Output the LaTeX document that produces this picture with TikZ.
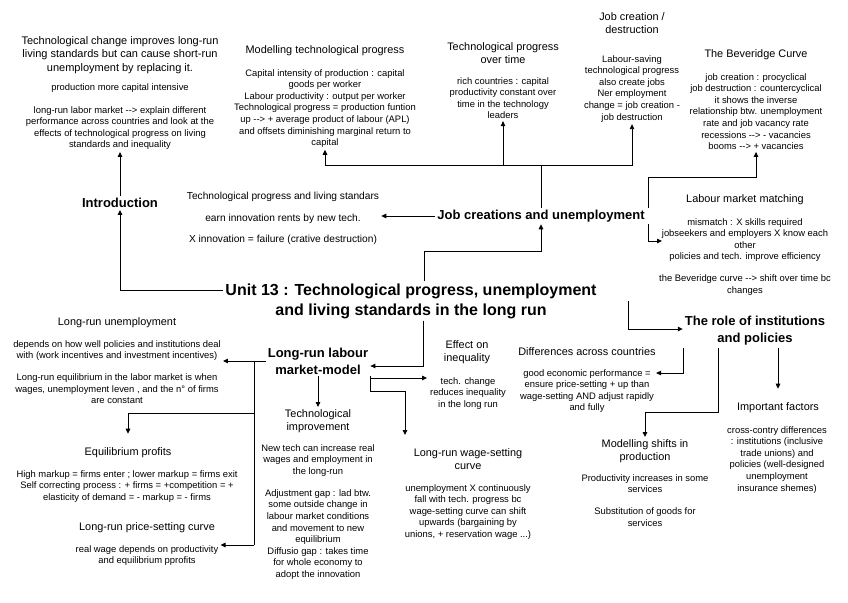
\documentclass[tikz,border=0pt]{standalone}
\usepackage{fontspec}
\setmainfont{Liberation Sans}
\usetikzlibrary{arrows.meta}

\tikzset{
    topic/.style={font=\bfseries\fontsize{13}{17}\selectfont, align=center, inner sep=2pt},
    head/.style={font=\fontsize{10.9}{13}\selectfont, align=center, inner sep=2pt},
    body/.style={font=\fontsize{9.4}{11.6}\selectfont, align=center, inner sep=2pt},
    bar/.style={line width=0.9pt},
    link/.style={bar, -{Triangle[length=5pt,width=4.5pt]}},
}

\begin{document}
\begin{tikzpicture}[x=1pt,y=-1pt]
    \useasboundingbox (0,0) rectangle (848,602);
    % centre
    \node[font=\bfseries\fontsize{16}{20}\selectfont, align=center, inner sep=2pt] (title) at (411,301)
        {Unit 13 : Technological progress, unemployment\\and living standards in the long run};
    \node[topic] (intro) at (120,203) {Introduction};
    \node[topic] (jobs) at (541,216) {Job creations and unemployment};
    \node[topic] (role) at (755,331) {The role of institutions\\and policies};
    \node[topic] (lrm) at (318,361) {Long-run labour\\market-model};
    % introduction
    \node[font=\fontsize{11}{13.5}\selectfont, align=center, inner sep=2pt, anchor=north] (introtxt) at (120,34)
        {Technological change improves long-run\\living standards but can cause short-run\\unemployment by replacing it.};
    \node[body] (introprod) at (120,88) {production more capital intensive};
    \node[body, anchor=north] (introlr) at (120,104)
        {long-run labor market -{}-> explain different\\performance across countries and look at the\\effects of technological progress on living\\standards and inequality};
    % job creations
    \node[head] (modhd) at (325,51) {Modelling technological progress};
    \node[body, anchor=north] (modbd) at (325,67)
        {Capital intensity of production : capital\\goods per worker\\Labour productivity : output per worker\\Technological progress = production funtion\\up -{}-> + average product of labour (APL)\\and offsets diminishing marginal return to\\capital};
    \node[head, anchor=north] (timehd) at (503,40) {Technological progress\\over time};
    \node[body, anchor=north] (timebd) at (503,75)
        {rich countries : capital\\productivity constant over\\time in the technology\\leaders};
    \node[head, anchor=north] (jchd) at (632,10) {Job creation /\\destruction};
    \node[body, anchor=north] (jcbd) at (632,53)
        {Labour-saving\\technological progress\\also create jobs\\Ner employment\\change = job creation -\\job destruction};
    \node[head] (bevhd) at (756,55) {The Beveridge Curve};
    \node[body, anchor=north] (bevbd) at (756,71)
        {job creation : procyclical\\job destruction : countercyclical\\it shows the inverse\\relationship btw. unemployment\\rate and job vacancy rate\\recessions -{}-> - vacancies\\booms -{}-> + vacancies};
    \node[head] (lmhd) at (745,200) {Labour market matching};
    \node[body, anchor=north] (lmbd) at (745,216)
        {mismatch : X skills required\\jobseekers and employers X know each\\other\\policies and tech. improve efficiency\\[10.5pt]the Beveridge curve -{}-> shift over time bc\\changes};
    \node[font=\fontsize{10.2}{21.5}\selectfont, align=center, inner sep=2pt] (tls) at (283,218.5)
        {Technological progress and living standars\\earn innovation rents by new tech.\\X innovation = failure (crative destruction)};
    % labour market model
    \node[head] (luhd) at (117,323) {Long-run unemployment};
    \node[body, anchor=north] (lubd) at (117,338)
        {depends on how well policies and institutions deal\\with (work incentives and investment incentives)\\[10.5pt]Long-run equilibrium in the labor market is when\\wages, unemployment leven , and the n° of firms\\are constant};
    \node[head] (ephd) at (128,453) {Equilibrium profits};
    \node[body, anchor=north] (epbd) at (127,468)
        {High markup = firms enter ; lower markup = firms exit\\Self correcting process : + firms = +competition = +\\elasticity of demand = - markup = - firms};
    \node[head] (lphd) at (147,528) {Long-run price-setting curve};
    \node[body, anchor=north] (lpbd) at (147,543)
        {real wage depends on productivity\\and equilibrium pprofits};
    \node[head, anchor=north] (tihd) at (318,407) {Technological\\improvement};
    \node[body, anchor=north] (tibd) at (318,442)
        {New tech can increase real\\wages and employment in\\the long-run\\[10.5pt]Adjustment gap : lad btw.\\some outside change in\\labour market conditions\\and movement to new\\equilibrium\\Diffusio gap : takes time\\for whole economy to\\adopt the innovation};
    \node[head, anchor=north] (efhd) at (467,338) {Effect on\\inequality};
    \node[body, anchor=north] (efbd) at (468,375)
        {tech. change\\reduces inequality\\in the long run};
    \node[head, anchor=north] (wshd) at (468,446) {Long-run wage-setting\\curve};
    \node[body, anchor=north] (wsbd) at (468,482)
        {unemployment X continuously\\fall with tech. progress bc\\wage-setting curve can shift\\upwards (bargaining by\\unions, + reservation wage ...)};
    % institutions and policies
    \node[head] (dfhd) at (587,352) {Differences across countries};
    \node[body, anchor=north] (dfbd) at (587,367)
        {good economic performance =\\ensure price-setting + up than\\wage-setting AND adjust rapidly\\and fully};
    \node[head, anchor=north] (mshd) at (645,437) {Modelling shifts in\\production};
    \node[body, anchor=north] (msbd) at (645,472)
        {Productivity increases in some\\services\\[10.5pt]Substitution of goods for\\services};
    \node[head] (ifhd) at (778,408) {Important factors};
    \node[body, anchor=north] (ifbd) at (777,424)
        {cross-contry differences\\: institutions (inclusive\\trade unions) and\\policies (well-designed\\unemployment\\insurance shemes)};

    % connectors from the title
    \draw[link] ([yshift=11pt]title.west) -| (intro.south);
    \draw[link] (intro.north) -- (introlr.south);
    \coordinate (tj) at (424,251);
    \draw[link] (title.north -| tj) -- (tj) -| (jobs.south);
    \coordinate (tr) at (628,329);
    \draw[link] (tr |- title.east) -- (tr) -- (tr -| role.west);
    \coordinate (tm) at (423,366);
    \draw[link] (tm |- title.south) -- (tm) -- (tm -| lrm.east);
    % job creations
    \coordinate (jt) at (541,165);
    \draw[bar] (jobs.north) -- (jt);
    \draw[link] (jt) -| (modbd.south);
    \draw[link] (jt) -| (timebd.south);
    \draw[link] (jt) -| (jcbd.south);
    \coordinate (jb) at (648,177);
    \draw[link] (jb |- jobs.north) -- (jb) -| (bevbd.south);
    \coordinate (jm) at (662,241);
    \draw[link] (jb |- jobs.south) |- (jm);
    \draw[link] (jobs.west) -- (jobs.west -| tls.east);
    % labour market model
    \draw[link] (lrm.south) -- (tihd.north);
    \coordinate (ef) at (427,378);
    \draw[link] (ef -| lrm.east) -- (ef);
    \coordinate (wa) at (370,391);
    \coordinate (wb) at (405,435);
    \draw[link] (wa |- lrm.south) -- (wa) -| (wb);
    \coordinate (la) at (254,361);
    \coordinate (lb) at (254,413);
    \coordinate (lc) at (254,545);
    \draw[bar] (lrm.west) -- (la) -- (lc);
    \draw[link] (la) -- (la -| lubd.east);
    \draw[link] (lb) -| ([yshift=12pt]ephd.north);
    \draw[link] (lc) -- (lc -| lpbd.east);
    % institutions and policies
    \coordinate (rd) at (683,373);
    \draw[link] (rd |- role.south) -- (rd) -- (rd -| dfbd.east);
    \coordinate (rm) at (718,412);
    \draw[link] (rm |- role.south) -- (rm) -| (mshd.north);
    \draw[link] (ifhd.north |- role.south) -- ([yshift=12pt]ifhd.north);
\end{tikzpicture}
\end{document}
